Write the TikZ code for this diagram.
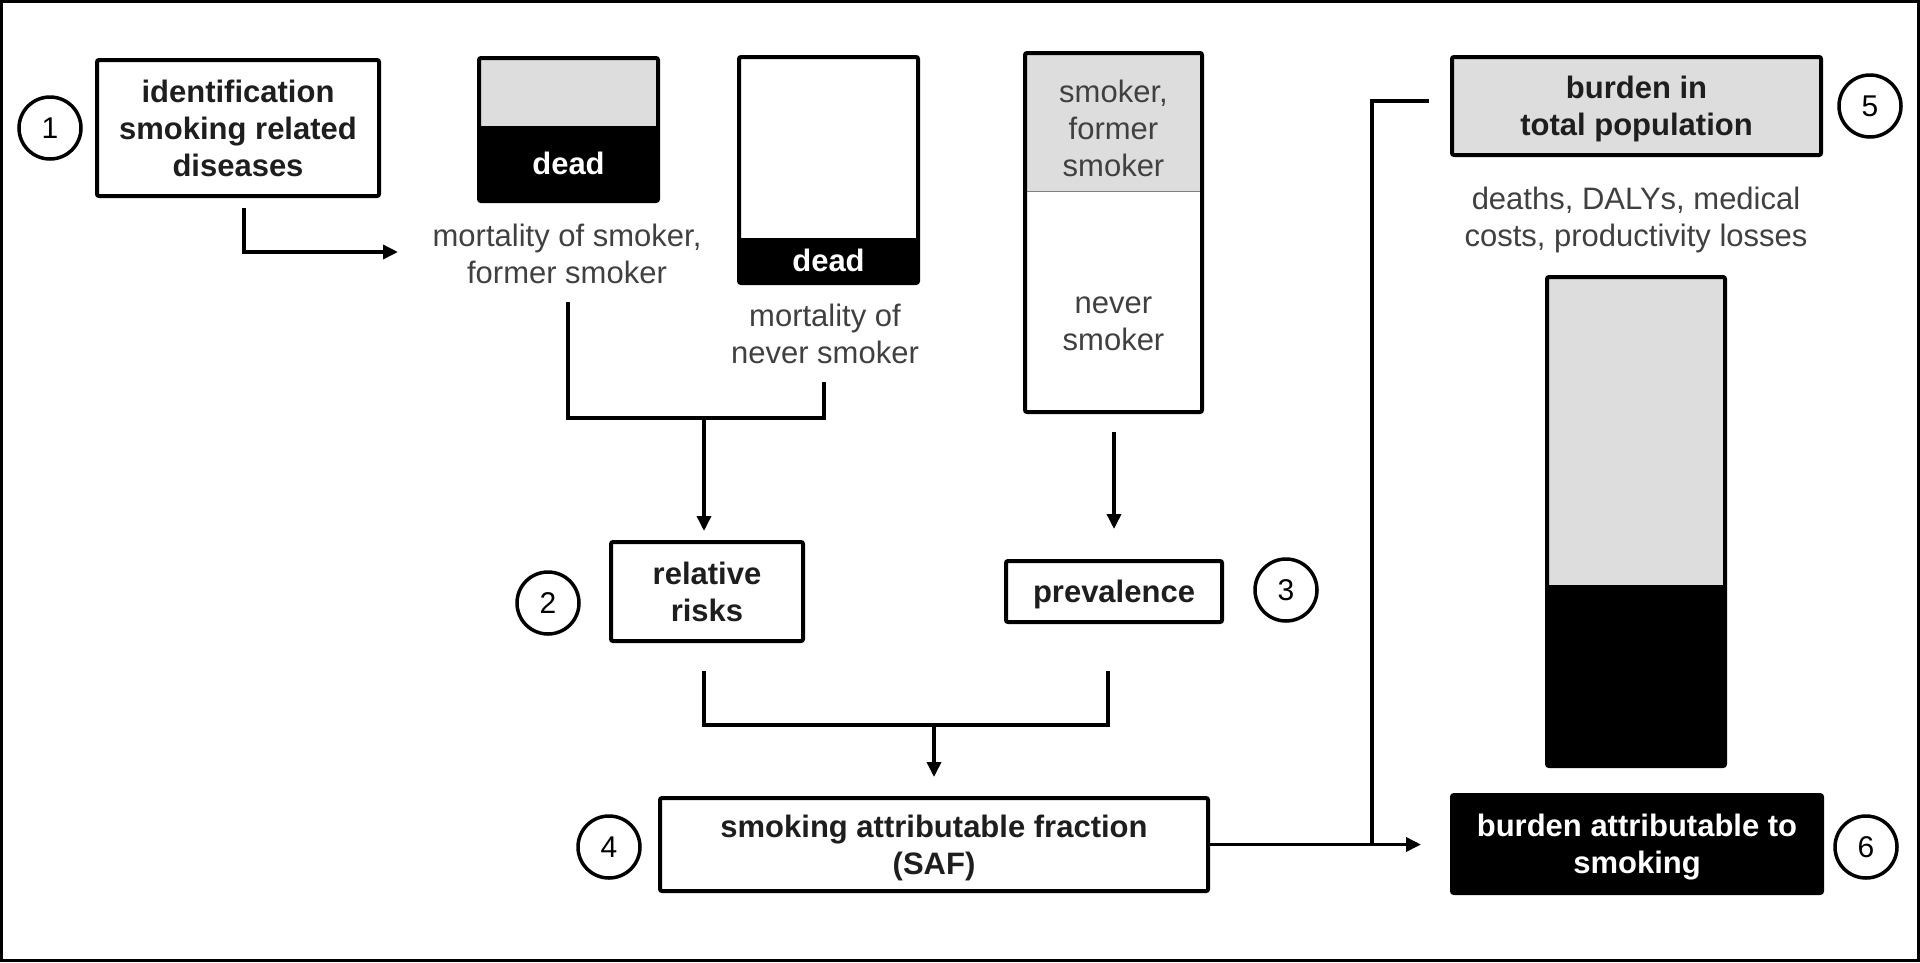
\documentclass[tikz,border=0pt]{standalone}
\usepackage{fontspec}
\setmainfont{Liberation Sans}
\usetikzlibrary{arrows.meta,calc}
\definecolor{lgray}{HTML}{DDDDDD}
\definecolor{txtgray}{HTML}{404040}
\definecolor{boldtxt}{HTML}{1E1E1E}
\tikzset{
  every node/.style={font=\fontsize{31}{37}\selectfont, inner sep=0pt, align=center},
  box/.style={draw, line width=4pt, rounded corners=2pt, text=boldtxt, font=\fontsize{31}{37}\selectfont\bfseries},
  frame/.style={draw, line width=4pt, rounded corners=2pt},
  plain/.style={text=txtgray},
  deadtxt/.style={text=white, font=\fontsize{31}{37}\selectfont\bfseries},
  num/.style={draw, circle, line width=3.5pt, minimum size=62pt, font=\fontsize{30}{36}\selectfont},
  conn/.style={line width=3.5pt},
  arr/.style={conn, -{Triangle[length=15pt,width=14pt]}},
}
\begin{document}
\begin{tikzpicture}[x=1pt,y=-1pt]
\useasboundingbox (0,0) rectangle (1920,962);
\draw[line width=3pt] (1.5,1.5) rectangle (1918.5,960.5);

% step 1
\node[num] (c1) at (50,128) {1};
\node[box, minimum width=282pt, minimum height=136pt] (b1) at (238,128) {identification\\smoking related\\diseases};

% mortality of smoker box
\fill[lgray] (479,58) rectangle (658,126);
\fill[black] (479,126) rectangle (658,201);
\node[frame, minimum width=179pt, minimum height=143pt] (ms) at (568.5,129.5) {};
\node[deadtxt] (msd) at (568.5,163) {dead};
\node[plain] (mst) at (567,253.5) {mortality of smoker,\\former smoker};

% mortality of never smoker box
\fill[black] (739,238) rectangle (918,283);
\node[frame, minimum width=179pt, minimum height=226pt] (mn) at (828.5,170) {};
\node[deadtxt] (mnd) at (828.5,260) {dead};
\node[plain] (mnt) at (825,333.5) {mortality of\\never smoker};

% population box
\fill[lgray] (1025,53) rectangle (1202,191);
\draw[line width=1pt, gray] (1025,191) -- (1202,191);
\node[frame, minimum width=177pt, minimum height=359pt] (pop) at (1113.5,232.5) {};
\node[plain] (pops) at (1113.5,128) {smoker,\\former\\smoker};
\node[plain] (popn) at (1113.5,323.5) {never\\smoker};

% step 2 and 3
\node[num] (c2) at (548,603) {2};
\node[box, minimum width=192pt, minimum height=99pt] (rr) at (707,591.5) {relative\\risks};
\node[box, text depth=0pt, minimum width=216pt, minimum height=61pt] (prev) at (1114,591.5) {prevalence};
\node[num] (c3) at (1286,590) {3};

% step 4
\node[num] (c4) at (609,847) {4};
\node[box, text depth=0pt, minimum width=548pt, minimum height=93pt] (saf) at (934,844.5) {smoking attributable fraction\\(SAF)};

% step 5
\node[box, text depth=0pt, fill=lgray, minimum width=369pt, minimum height=98pt] (btp) at (1636.5,106) {burden in\\total population};
\node[num] (c5) at (1870,106) {5};
\node[plain] (dal) at (1636,219.5) {deaths, DALYs, medical\\costs, productivity losses};

% bar
\fill[lgray] (1547,277) rectangle (1725,585);
\fill[black] (1547,585) rectangle (1725,766);
\node[frame, minimum width=178pt, minimum height=489pt] (bar) at (1636,521.5) {};

% step 6
\node[box, text depth=0pt, fill=black, text=white, minimum width=370pt, minimum height=98pt] (bat) at (1637,844) {burden attributable to\\smoking};
\node[num] (c6) at (1866,847) {6};

% connectors
\coordinate (k1) at (244,208);
\coordinate (k1e) at (398,252);
\draw[arr] (k1) |- (k1e);

\coordinate (k2a) at (568,302);
\coordinate (k2b) at (824,418);
\coordinate (k2c) at (824,382);
\coordinate (j1) at (704,418);
\draw[conn] (k2a) |- (k2b) -- (k2c);
\draw[arr, shorten >=9pt] (j1) -- (j1 |- rr.north);

\coordinate (k3) at (1114,432);
\draw[arr, shorten >=30pt] (k3) -- (k3 |- prev.north);

\coordinate (k4a) at (704,671);
\coordinate (k4b) at (1108,725);
\coordinate (k4c) at (1108,671);
\coordinate (j2) at (934,725);
\draw[conn] (k4a) |- (k4b) -- (k4c);
\draw[arr, shorten >=19pt] (j2) -- (j2 |- saf.north);

\draw[arr, shorten >=29pt] (saf.east) -- (saf.east -| bat.west);
\coordinate (j3) at (1372,844);
\coordinate (k5) at (1429,101);
\draw[conn] (j3) |- (k5);
\end{tikzpicture}
\end{document}
